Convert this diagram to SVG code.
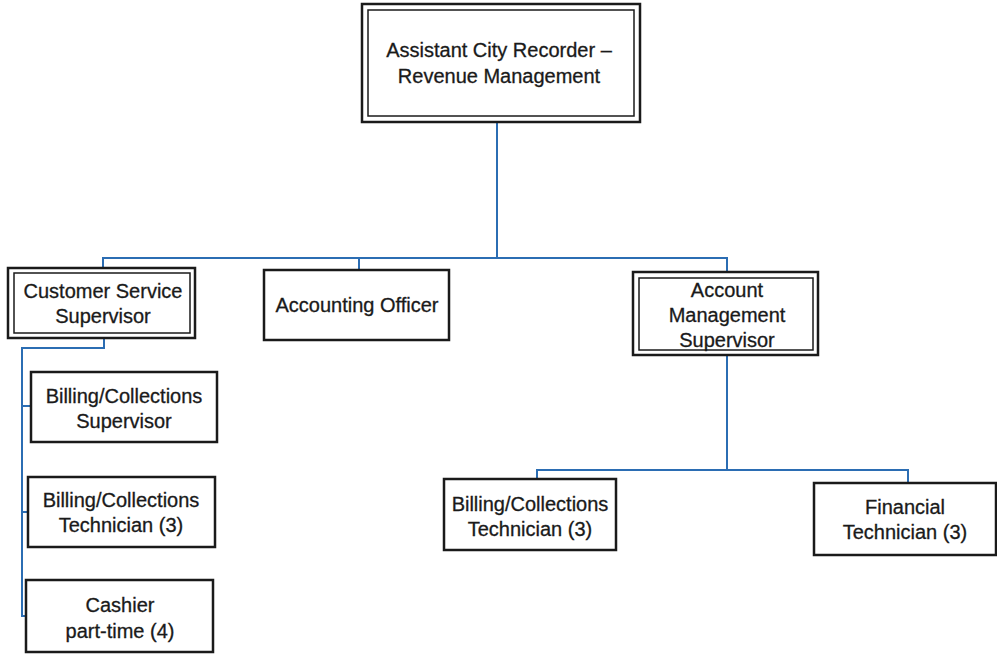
<svg xmlns="http://www.w3.org/2000/svg" width="997" height="656" viewBox="0 0 997 656">
<style>
.box{fill:#fff;stroke:#1a1a1a;stroke-width:2.5}
.inner{fill:none;stroke:#1a1a1a;stroke-width:1.5}
.t{font-family:"Liberation Sans",Arial,sans-serif;font-size:20px;fill:#1a1a1a;stroke:#1a1a1a;stroke-width:0.3;text-anchor:middle}
.c{fill:none;stroke:#2b6db3;stroke-width:2}
</style>
<rect width="997" height="656" fill="#fff"/>
<g id="connectors">
<path class="c" d="M497 122V258M103 268V258H727V272M359 258V270"/>
<path class="c" d="M104 338V348H22V616H26M22 406H31M22 512H28"/>
<path class="c" d="M727 355V470M537 480V470H908V483"/>
</g>
<g id="n-acr">
<rect class="box" x="362" y="4" width="278" height="118"/>
<rect class="inner" x="368" y="10" width="266" height="106"/>
<text class="t" x="499" y="57">Assistant City Recorder –</text>
<text class="t" x="499" y="83">Revenue Management</text>
</g>
<g id="n-css">
<rect class="box" x="8" y="268" width="187" height="70"/>
<rect class="inner" x="14" y="273" width="176" height="60"/>
<text class="t" x="103" y="298">Customer Service</text>
<text class="t" x="103" y="323">Supervisor</text>
</g>
<g id="n-ao">
<rect class="box" x="264" y="270" width="185" height="70"/>
<text class="t" x="357" y="312">Accounting Officer</text>
</g>
<g id="n-ams">
<rect class="box" x="633" y="272" width="185" height="83"/>
<rect class="inner" x="639" y="278" width="174" height="72"/>
<text class="t" x="727" y="297">Account</text>
<text class="t" x="727" y="322">Management</text>
<text class="t" x="727" y="347">Supervisor</text>
</g>
<g id="n-bcs">
<rect class="box" x="31" y="372" width="186" height="70"/>
<text class="t" x="124" y="403">Billing/Collections</text>
<text class="t" x="124" y="428">Supervisor</text>
</g>
<g id="n-bct">
<rect class="box" x="28" y="477" width="187" height="70"/>
<text class="t" x="121" y="507">Billing/Collections</text>
<text class="t" x="121" y="532">Technician (3)</text>
</g>
<g id="n-cash">
<rect class="box" x="26" y="580" width="187" height="72"/>
<text class="t" x="120" y="612">Cashier</text>
<text class="t" x="120" y="638">part-time (4)</text>
</g>
<g id="n-bct2">
<rect class="box" x="444" y="479" width="172" height="71"/>
<text class="t" x="530" y="511">Billing/Collections</text>
<text class="t" x="530" y="536">Technician (3)</text>
</g>
<g id="n-ft">
<rect class="box" x="814" y="483" width="182" height="72"/>
<text class="t" x="905" y="514">Financial</text>
<text class="t" x="905" y="539">Technician (3)</text>
</g>
</svg>
